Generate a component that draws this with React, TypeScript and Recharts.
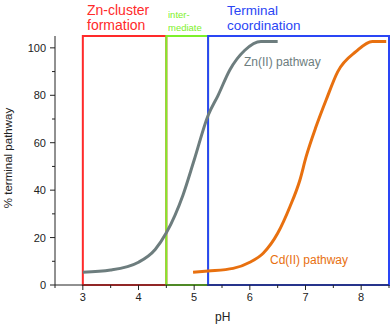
import React from "react";
import { LineChart, Line, XAxis, YAxis, ReferenceArea } from "recharts";

const xTicks = [2.5, 3, 3.5, 4, 4.5, 5, 5.5, 6, 6.5, 7, 7.5, 8, 8.5];
const yTicks = [0, 10, 20, 30, 40, 50, 60, 70, 80, 90, 100];

const znPH = [3, 3.5, 4, 4.3, 4.5, 4.8, 5.0, 5.25, 5.43, 5.64, 5.91, 6.2, 6.5];
const znVal = [5.4, 6.3, 9.6, 15, 22, 38, 52.7, 71.5, 80, 90.7, 99, 102.7, 102.7];

const cdPH = [4.98, 5.25, 5.7, 6.0, 6.24, 6.5, 6.72, 6.9, 7.01, 7.19, 7.37, 7.58, 7.91, 8.2, 8.45];
const cdVal = [5.4, 5.9, 7, 9.6, 13.4, 21.8, 33, 44.3, 54, 66.8, 78, 90, 98.5, 102.7, 102.7];

const regions = [
  { name: "Zn-cluster formation", from: 3, to: 4.5, color: "#ff2a2a" },
  { name: "intermediate", from: 4.5, to: 5.25, color: "#7df02a" },
  { name: "Terminal coordination", from: 5.25, to: 8.5, color: "#2a46f5" },
];

const znData = znPH.map((x, i) => ({ x, y: znVal[i] }));
const cdData = cdPH.map((x, i) => ({ x, y: cdVal[i] }));

const AXIS = "#222";
const FONT = "'Liberation Sans', Arial, sans-serif";

const XTick = (props: any) => {
  const { x, y, payload } = props;
  const v = payload.value;
  const major = Number.isInteger(v);
  return (
    <g>
      <line x1={x} x2={x} y1={y} y2={y + (major ? 5 : 3)} stroke={AXIS} strokeWidth={1} />
      {major && v >= 3 && (
        <text x={x} y={y + 16} textAnchor="middle" fontSize={11} fill={AXIS} fontFamily={FONT}>
          {v}
        </text>
      )}
    </g>
  );
};

const YTick = (props: any) => {
  const { x, y, payload } = props;
  const v = payload.value;
  const major = v % 20 === 0;
  return (
    <g>
      <line x1={x} x2={x - (major ? 5 : 3)} y1={y} y2={y} stroke={AXIS} strokeWidth={1} />
      {major && (
        <text x={x - 9} y={y + 4} textAnchor="end" fontSize={11} fill={AXIS} fontFamily={FONT}>
          {v}
        </text>
      )}
    </g>
  );
};

const abs = (style: React.CSSProperties): React.CSSProperties => ({
  position: "absolute",
  fontFamily: FONT,
  whiteSpace: "nowrap",
  lineHeight: 1,
  ...style,
});

export default function App() {
  return (
    <div style={{ position: "absolute", left: 0, top: 0, width: 392, height: 325, background: "#fff" }}>
      <LineChart width={392} height={325} margin={{ top: 36, right: 3, bottom: 0, left: 0 }}>
        <XAxis
          dataKey="x"
          type="number"
          domain={[2.5, 8.5]}
          ticks={xTicks}
          interval={0}
          allowDataOverflow
          height={40}
          tickSize={0}
          tickMargin={0}
          tickLine={false}
          axisLine={{ stroke: AXIS, strokeWidth: 1 }}
          tick={<XTick />}
        />
        <YAxis
          type="number"
          domain={[0, 105]}
          ticks={yTicks}
          interval={0}
          allowDataOverflow
          width={55}
          tickSize={0}
          tickMargin={0}
          tickLine={false}
          axisLine={{ stroke: AXIS, strokeWidth: 1 }}
          tick={<YTick />}
        />
        <Line data={znData} dataKey="y" type="monotone" stroke="#6d7d7e" strokeWidth={3} dot={false} isAnimationActive={false} />
        <Line data={cdData} dataKey="y" type="monotone" stroke="#e8700f" strokeWidth={3} dot={false} isAnimationActive={false} />
        {regions.map((r) => (
          <ReferenceArea
            key={r.name}
            x1={r.from}
            x2={r.to}
            y1={0}
            y2={105}
            fill="none"
            fillOpacity={0}
            stroke={r.color}
            strokeWidth={2}
            ifOverflow="visible"
          />
        ))}
      </LineChart>
      <div style={abs({ left: 87, top: 3, fontSize: 14, color: "#ff2a2a", lineHeight: "15px" })}>
        Zn-cluster
        <br />
        formation
      </div>
      <div style={abs({ left: 168, top: 8, fontSize: 9.5, color: "#7df02a", lineHeight: "13px" })}>
        inter-
        <br />
        mediate
      </div>
      <div style={abs({ left: 227, top: 3, fontSize: 13.5, color: "#2a46f5", lineHeight: "15px" })}>
        Terminal
        <br />
        coordination
      </div>
      <div style={abs({ left: 244, top: 56, fontSize: 12, color: "#6d7d7e" })}>Zn(II) pathway</div>
      <div style={abs({ left: 270, top: 254, fontSize: 12, color: "#e8700f" })}>Cd(II) pathway</div>
      <div style={abs({ left: 215, top: 311, fontSize: 12, color: "#222" })}>pH</div>
      <div
        style={abs({
          left: 9,
          top: 158,
          fontSize: 11.5,
          color: "#222",
          transform: "translate(-50%, -50%) rotate(-90deg)",
        })}
      >
        % terminal pathway
      </div>
    </div>
  );
}
